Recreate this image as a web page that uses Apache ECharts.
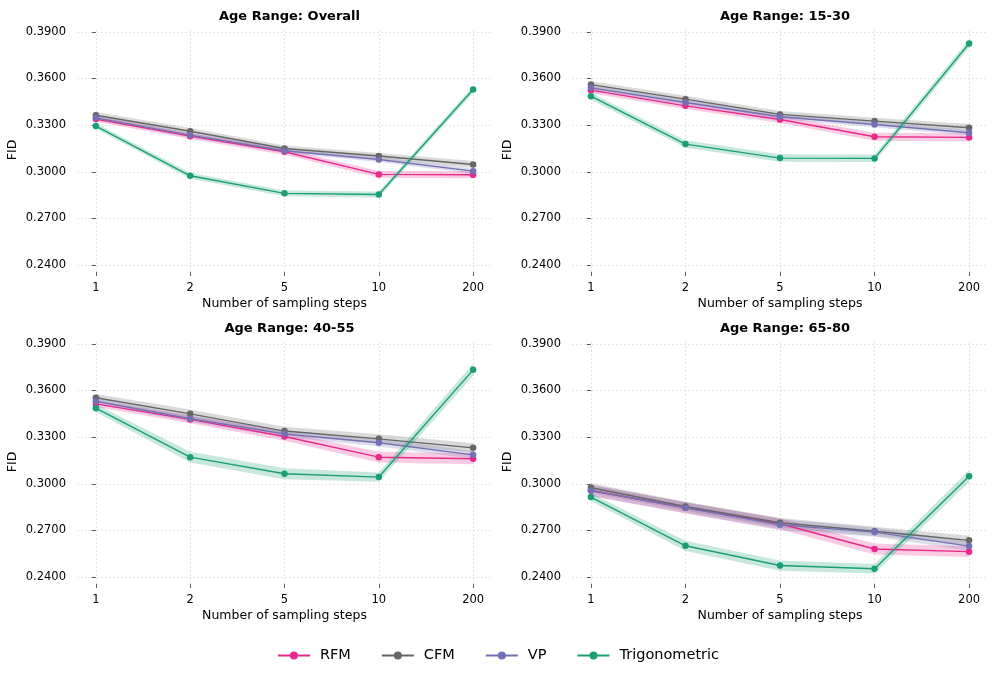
<!DOCTYPE html>
<html>
<head>
<meta charset="utf-8">
<script src="https://cdn.jsdelivr.net/npm/echarts@6/dist/echarts.min.js"></script>
<style>html,body{margin:0;padding:0;background:#fff}#c{width:996px;height:680px}</style>
</head>
<body>
<div id="c"></div>
<script>
// ---- data ----
const steps = ['1', '2', '5', '10', '200'];
const panelTitles = ['Age Range: Overall', 'Age Range: 15-30', 'Age Range: 40-55', 'Age Range: 65-80'];
const yTicks = [0.24, 0.27, 0.30, 0.33, 0.36, 0.39];
const seriesNames = ['RFM', 'CFM', 'VP', 'Trigonometric'];

// Overall
const rfmOverall  = [0.3339, 0.3229, 0.3129, 0.2983, 0.2981];
const cfmOverall  = [0.3364, 0.3261, 0.3150, 0.3101, 0.3047];
const vpOverall   = [0.3347, 0.3236, 0.3135, 0.3079, 0.3004];
const trigOverall = [0.3294, 0.2974, 0.2861, 0.2854, 0.3529];
// 15-30
const rfm1530  = [0.3525, 0.3424, 0.3336, 0.3225, 0.3221];
const cfm1530  = [0.3561, 0.3467, 0.3369, 0.3326, 0.3283];
const vp1530   = [0.3540, 0.3446, 0.3354, 0.3304, 0.3251];
const trig1530 = [0.3486, 0.3178, 0.3088, 0.3086, 0.3825];
// 40-55
const rfm4055  = [0.3514, 0.3414, 0.3304, 0.3171, 0.3161];
const cfm4055  = [0.3553, 0.3450, 0.3339, 0.3289, 0.3231];
const vp4055   = [0.3531, 0.3418, 0.3321, 0.3264, 0.3186];
const trig4055 = [0.3486, 0.3171, 0.3064, 0.3043, 0.3733];
// 65-80
const rfm6580  = [0.2957, 0.2846, 0.2743, 0.2580, 0.2563];
const cfm6580  = [0.2974, 0.2854, 0.2749, 0.2694, 0.2636];
const vp6580   = [0.2957, 0.2846, 0.2736, 0.2689, 0.2599];
const trig6580 = [0.2914, 0.2601, 0.2474, 0.2453, 0.3049];

// band half-widths (shaded spread)
const rfmOverallBand  = [0.0018, 0.0018, 0.0019, 0.0022, 0.0022];
const cfmOverallBand  = [0.0020, 0.0020, 0.0019, 0.0020, 0.0022];
const vpOverallBand   = [0.0015, 0.0015, 0.0015, 0.0017, 0.0017];
const trigOverallBand = [0.0018, 0.0019, 0.0019, 0.0019, 0.0023];
const rfm1530Band  = [0.0020, 0.0020, 0.0022, 0.0026, 0.0026];
const cfm1530Band  = [0.0022, 0.0022, 0.0022, 0.0022, 0.0024];
const vp1530Band   = [0.0017, 0.0017, 0.0017, 0.0018, 0.0018];
const trig1530Band = [0.0022, 0.0024, 0.0024, 0.0024, 0.0028];
const rfm4055Band  = [0.0020, 0.0025, 0.0028, 0.0035, 0.0035];
const cfm4055Band  = [0.0025, 0.0028, 0.0028, 0.0030, 0.0030];
const vp4055Band   = [0.0018, 0.0020, 0.0022, 0.0025, 0.0025];
const trig4055Band = [0.0025, 0.0035, 0.0035, 0.0030, 0.0040];
const rfm6580Band  = [0.0035, 0.0035, 0.0035, 0.0035, 0.0035];
const cfm6580Band  = [0.0030, 0.0030, 0.0030, 0.0030, 0.0030];
const vp6580Band   = [0.0035, 0.0035, 0.0035, 0.0030, 0.0030];
const trig6580Band = [0.0025, 0.0033, 0.0033, 0.0030, 0.0040];

const panels = [
  [rfmOverall, cfmOverall, vpOverall, trigOverall],
  [rfm1530, cfm1530, vp1530, trig1530],
  [rfm4055, cfm4055, vp4055, trig4055],
  [rfm6580, cfm6580, vp6580, trig6580]
];
const bands = [
  [rfmOverallBand, cfmOverallBand, vpOverallBand, trigOverallBand],
  [rfm1530Band, cfm1530Band, vp1530Band, trig1530Band],
  [rfm4055Band, cfm4055Band, vp4055Band, trig4055Band],
  [rfm6580Band, cfm6580Band, vp6580Band, trig6580Band]
];

// ---- styling ----
const colors = ['#e7298a', '#666666', '#7570b3', '#1b9e77'];
const bandColors = ['rgba(231,41,138,0.24)', 'rgba(102,102,102,0.24)', 'rgba(117,112,179,0.24)', 'rgba(27,158,119,0.24)'];
const FONT = 'DejaVu Sans';
const gridPos = [
  {left: 77, top: 28, width: 415, height: 244},
  {left: 572, top: 28, width: 416, height: 244},
  {left: 77, top: 340, width: 415, height: 244},
  {left: 572, top: 340, width: 416, height: 244}
];

const chart = echarts.init(document.getElementById('c'), null, {renderer: 'canvas'});
const grids = [], xAxes = [], yAxes = [], titles = [], series = [];
const gridLineStyle = {color: '#dddddd', width: 0.8, type: [2, 2]};

gridPos.forEach((g, gi) => {
  grids.push(Object.assign({containLabel: false}, g));
  titles.push({
    text: panelTitles[gi], left: g.left + g.width / 2, top: g.top - 23, textAlign: 'center',
    textStyle: {fontFamily: FONT, fontSize: 13, fontWeight: 'bold', color: '#000'}
  });
  xAxes.push({
    type: 'value', gridIndex: gi, min: -0.2, max: 4.2,
    name: 'Number of sampling steps', nameLocation: 'middle', nameGap: 25,
    nameTextStyle: {fontFamily: FONT, fontSize: 12.5, color: '#000'},
    axisLine: {show: false},
    axisTick: {show: true, length: 4, customValues: [0, 1, 2, 3, 4], lineStyle: {color: '#333', width: 0.8}},
    axisLabel: {customValues: [0, 1, 2, 3, 4], margin: 10, fontFamily: FONT, fontSize: 11.5, color: '#000',
      formatter: v => steps[Math.round(v)] || ''},
    splitLine: {show: false}
  });
  yAxes.push({
    type: 'value', gridIndex: gi, min: 0.2355, max: 0.3925, offset: 4,
    name: 'FID', nameLocation: 'middle', nameGap: 54,
    nameTextStyle: {fontFamily: FONT, fontSize: 12.5, color: '#000'},
    axisLine: {show: false},
    axisTick: {show: true, length: 4, customValues: yTicks, lineStyle: {color: '#333', width: 0.8}},
    axisLabel: {customValues: yTicks, margin: 7, fontFamily: FONT, fontSize: 11.5, color: '#000',
      formatter: v => v.toFixed(4)},
    splitLine: {show: false}
  });
  // grid lines via markLine on an empty helper series
  series.push({
    type: 'line', xAxisIndex: gi, yAxisIndex: gi, data: [], silent: true,
    markLine: {
      silent: true, symbol: ['none', 'none'], z: 0, animation: false,
      label: {show: false}, lineStyle: gridLineStyle,
      data: [0, 1, 2, 3, 4].map(v => ({xAxis: v})).concat(yTicks.map(v => ({yAxis: v})))
    }
  });
  // bands (polygon through the axis scales)
  panels[gi].forEach((mean, si) => {
    const half = bands[gi][si];
    series.push({
      type: 'custom', xAxisIndex: gi, yAxisIndex: gi, silent: true, z: 1,
      data: mean.map((v, i) => [i, v]),
      renderItem: function (params, api) {
        if (params.dataIndex !== 0) return null;
        const pts = [];
        for (let i = 0; i < mean.length; i++) pts.push(api.coord([i, mean[i] + half[i]]));
        for (let i = mean.length - 1; i >= 0; i--) pts.push(api.coord([i, mean[i] - half[i]]));
        return {type: 'polygon', shape: {points: pts}, style: {fill: bandColors[si]}};
      }
    });
  });
  // lines
  panels[gi].forEach((mean, si) => {
    series.push({
      type: 'line', name: seriesNames[si], xAxisIndex: gi, yAxisIndex: gi, z: 3 + si,
      data: mean.map((v, i) => [i, v]),
      symbol: 'circle', symbolSize: 6.5, showSymbol: true,
      lineStyle: {color: colors[si], width: 1.4},
      itemStyle: {color: colors[si]},
      emphasis: {disabled: true},
      animation: false
    });
  });
});

chart.setOption({
  animation: false,
  backgroundColor: '#fff',
  title: titles,
  grid: grids,
  xAxis: xAxes,
  yAxis: yAxes,
  legend: {
    data: seriesNames, bottom: 12, left: 'center', itemWidth: 32, itemHeight: 10, itemGap: 30,
    textStyle: {fontFamily: FONT, fontSize: 14.5, color: '#000', padding: [0, 0, 0, 5]}
  },
  series: series
});
</script>
</body>
</html>
